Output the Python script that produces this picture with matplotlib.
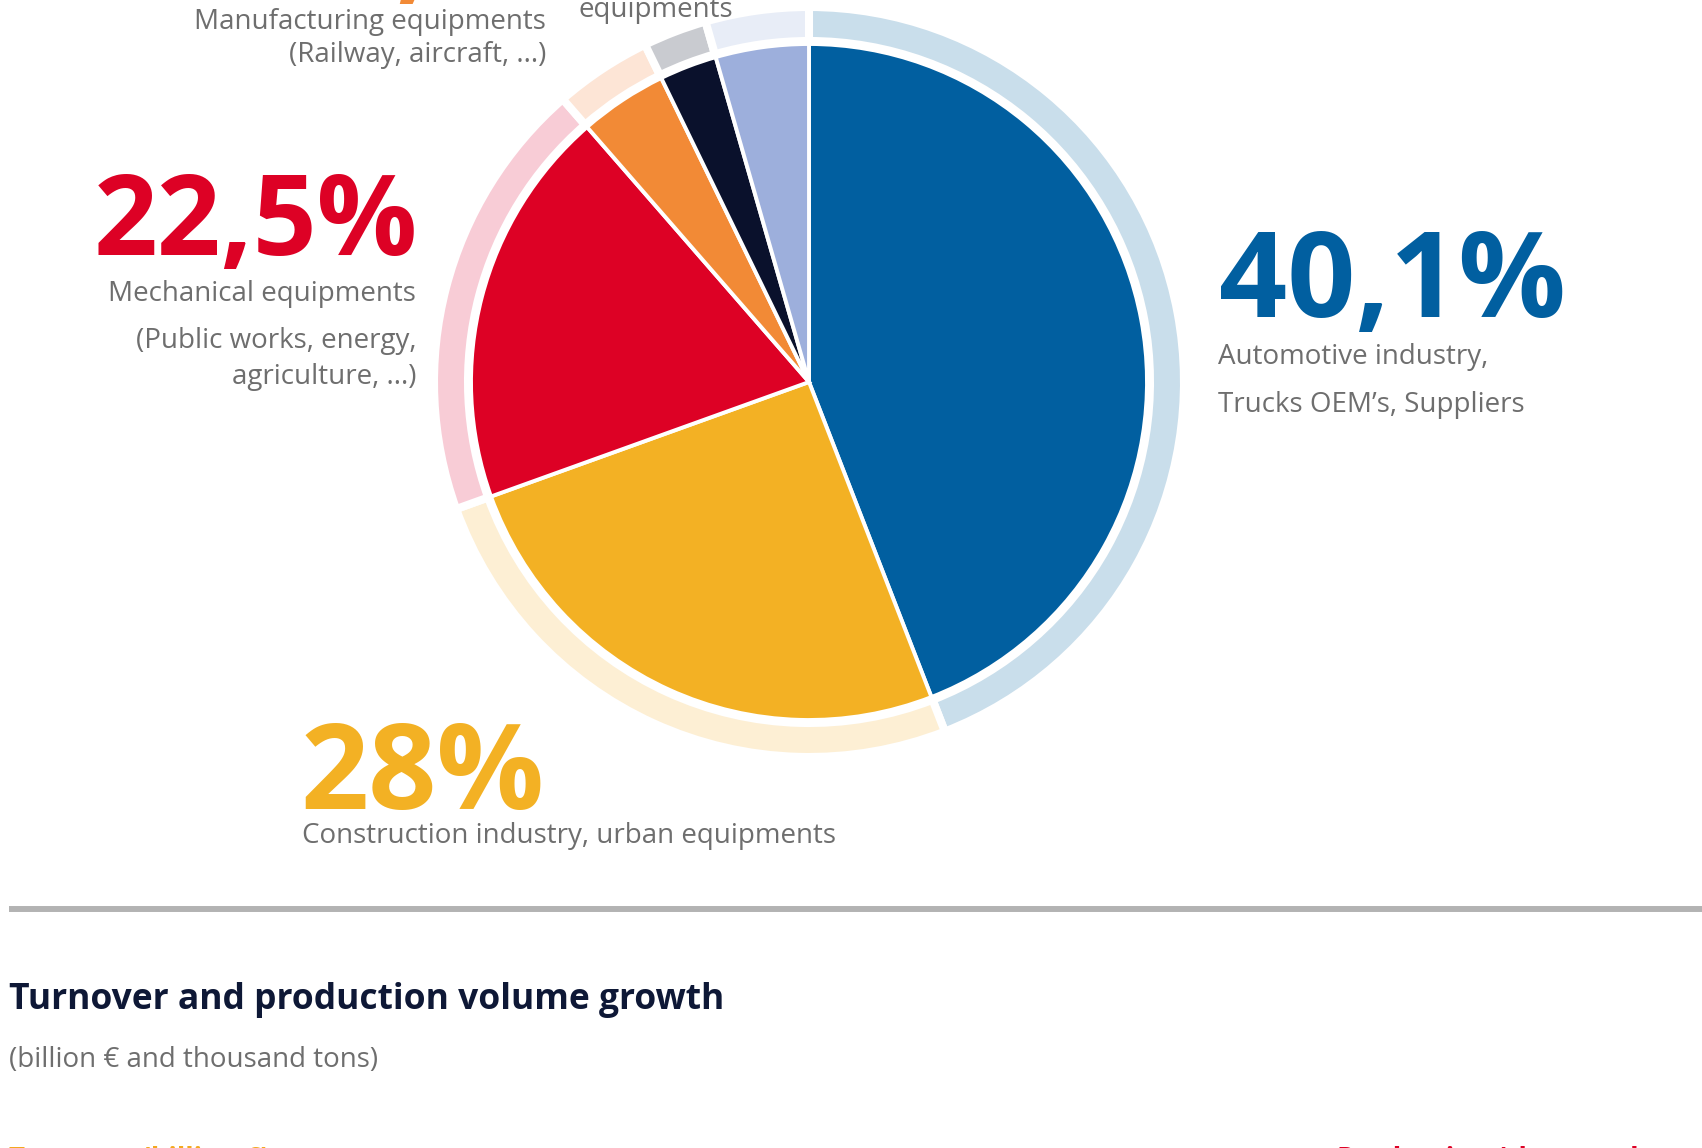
import matplotlib
matplotlib.use("Agg")
import matplotlib.pyplot as plt

plt.rcParams['font.family'] = ['Open Sans', 'DejaVu Sans']

# ---- data ----
categories = ["Automotive industry", "Construction industry", "Mechanical equipments",
              "Manufacturing equipments", "Other equipments", "Other equipments 2"]
shares = [44.1, 25.4, 19.1, 4.2, 2.75, 4.45]          # slice sizes as drawn
pct_labels = ["40,1%", "28%", "22,5%", "4,2%"]
main_colors = ["#015FA0", "#F3B124", "#DD0125", "#F28A36", "#0A112C", "#9DAFDC"]
ring_colors = ["#C9DEEB", "#FDEFD4", "#F8CCD6", "#FDE5D6", "#C9CBD0", "#E8EDF7"]

W, H = 1702, 1148
fig = plt.figure(figsize=(W / 100, H / 100), dpi=100)
ax = fig.add_axes([0, 0, 1, 1])

def Y(y):
    return H - y

cx, cy = 809, 382

# outer light ring
ax.pie(shares, colors=ring_colors, startangle=90, counterclock=False,
       radius=375, center=(cx, Y(cy)),
       wedgeprops=dict(width=34, edgecolor="white", linewidth=5.8))
# main pie
ax.pie(shares, colors=main_colors, startangle=90, counterclock=False,
       radius=338, center=(cx, Y(cy)),
       wedgeprops=dict(edgecolor="white", linewidth=2.8))

ax.set_xlim(0, W)
ax.set_ylim(0, H)
ax.set_aspect("equal")
ax.axis("off")

gray = "#6E6E6E"
big = 86
lab = 20

# 40,1% block
ax.text(1219, Y(317), pct_labels[0], color=main_colors[0], fontsize=big,
        fontweight="bold", ha="left", va="baseline")
ax.text(1218, Y(364), "Automotive industry,", color=gray, fontsize=lab,
        ha="left", va="baseline")
ax.text(1218, Y(412), "Trucks OEM\u2019s, Suppliers", color=gray, fontsize=lab,
        ha="left", va="baseline")

# 22,5% block
ax.text(418, Y(255), pct_labels[2], color=main_colors[2], fontsize=80.5,
        fontweight="bold", ha="right", va="baseline")
ax.text(416, Y(301), "Mechanical equipments", color=gray, fontsize=lab,
        ha="right", va="baseline")
ax.text(416, Y(348), "(Public works, energy,", color=gray, fontsize=lab,
        ha="right", va="baseline")
ax.text(416, Y(384), "agriculture, ...)", color=gray, fontsize=lab,
        ha="right", va="baseline")

# 28% block
ax.text(300, Y(809), pct_labels[1], color=main_colors[1], fontsize=big,
        fontweight="bold", ha="left", va="baseline")
ax.text(302, Y(843), "Construction industry, urban equipments", color=gray,
        fontsize=lab, ha="left", va="baseline")

# top, partly cut labels
ax.text(606, Y(-11), pct_labels[3], color=main_colors[3], fontsize=big,
        fontweight="bold", ha="right", va="baseline")
ax.text(546, Y(29), "Manufacturing equipments", color=gray, fontsize=lab,
        ha="right", va="baseline")
ax.text(546, Y(62), "(Railway, aircraft, ...)", color=gray, fontsize=lab,
        ha="right", va="baseline")
ax.text(579, Y(17), "equipments", color=gray, fontsize=lab,
        ha="left", va="baseline")

# separator line
ax.plot([9, W], [Y(909), Y(909)], color="#B3B3B3", linewidth=4.3,
        solid_capstyle="butt")

# second section header
ax.text(9, Y(1009), "Turnover and production volume growth", color="#0E1836",
        fontsize=25.5, fontweight="bold", ha="left", va="baseline")
ax.text(9, Y(1067), "(billion \u20ac and thousand tons)", color=gray,
        fontsize=20, ha="left", va="baseline")

ax.text(9, Y(1168), "Turnover (billion \u20ac)", color="#F3A81F",
        fontsize=20, fontweight="bold", ha="left", va="baseline")
ax.text(1337, Y(1168), "Production (thousand tons)", color="#DD0125",
        fontsize=20, fontweight="bold", ha="left", va="baseline")

fig.savefig("out.png", dpi=100)
